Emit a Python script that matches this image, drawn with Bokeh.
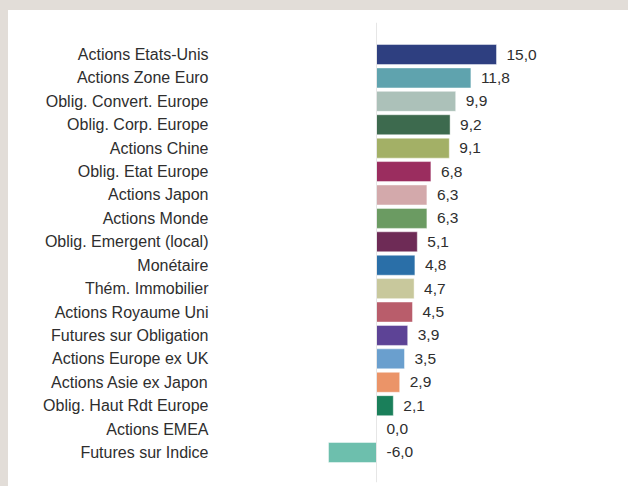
from bokeh.plotting import figure
from bokeh.models import Range1d, FixedTicker, Span, ColumnDataSource, Spacer
from bokeh.layouts import column, row
from bokeh.core.properties import value
from bokeh.embed import file_html
from bokeh.resources import INLINE

categories = [
    "Actions Etats-Unis", "Actions Zone Euro", "Oblig. Convert. Europe",
    "Oblig. Corp. Europe", "Actions Chine", "Oblig. Etat Europe",
    "Actions Japon", "Actions Monde", "Oblig. Emergent (local)", "Monétaire",
    "Thém. Immobilier", "Actions Royaume Uni", "Futures sur Obligation",
    "Actions Europe ex UK", "Actions Asie ex Japon", "Oblig. Haut Rdt Europe",
    "Actions EMEA", "Futures sur Indice",
]
values = [15.0, 11.8, 9.9, 9.2, 9.1, 6.8, 6.3, 6.3, 5.1, 4.8, 4.7, 4.5,
          3.9, 3.5, 2.9, 2.1, 0.0, -6.0]
colors = [
    "#2e3f80", "#5fa3ae", "#acc1b9", "#3d6a4e", "#a3b066", "#9b2d5f",
    "#d3a9ab", "#6b9b62", "#6e2b56", "#2a6fa8", "#c8c89c", "#b95d6b",
    "#5d4396", "#6a9fce", "#eb9468", "#1a7f5a", "#cccccc", "#6dbfad",
]

pos = list(range(len(categories)))
labels = [f"{v:.1f}".replace(".", ",") for v in values]
label_x = [max(v, 0.0) for v in values]

src = ColumnDataSource(dict(y=pos, v=values, c=colors, lab=labels, lx=label_x))

p = figure(width=620, height=476, output_backend="svg", toolbar_location=None,
           x_range=Range1d(-19.75, 31.5),
           y_range=Range1d(len(categories) - 1 + 1.282, -1.368),
           min_border_left=210, min_border_right=0,
           min_border_top=12, min_border_bottom=4)
p.outline_line_color = None
p.background_fill_color = "white"
p.border_fill_color = "white"
p.xgrid.visible = False
p.ygrid.visible = False
p.xaxis.visible = False

p.yaxis.ticker = FixedTicker(ticks=pos)
p.yaxis.major_label_overrides = {i: c for i, c in zip(pos, categories)}
p.yaxis.axis_line_color = None
p.yaxis.major_tick_line_color = None
p.yaxis.minor_tick_line_color = None
p.yaxis.major_tick_out = 0
p.yaxis.major_tick_in = 0
p.yaxis.major_label_standoff = 10
p.yaxis.major_label_text_font = "Liberation Sans"
p.yaxis.major_label_text_font_size = "16px"
p.yaxis.major_label_text_color = "#2e2e2e"

p.add_layout(Span(location=0, dimension="height", line_color="#e6e6e6", line_width=1))

p.hbar(y="y", left=0, right="v", height=0.855, fill_color="c", source=src,
       line_color="white", line_alpha=0.45, line_width=1)

p.text(x="lx", y="y", text="lab", source=src, x_offset=10,
       text_baseline="middle", text_align="left",
       text_font=value("Liberation Sans"), text_font_size="15.5px", text_color="#2e2e2e")

layout = column(Spacer(height=10, width=628), row(Spacer(width=8, height=476), p))

html = file_html(layout, INLINE)
style = ("<style>html,body{overflow:hidden;background:"
         "linear-gradient(#e2ddd8,#e2ddd8) 0 0/100% 10px no-repeat,"
         "linear-gradient(#e2ddd8,#e2ddd8) 0 0/8px 100% no-repeat,#ffffff;}</style>")
html = html.replace("</head>", style + "</head>", 1)
open("out.html", "w").write(html)
